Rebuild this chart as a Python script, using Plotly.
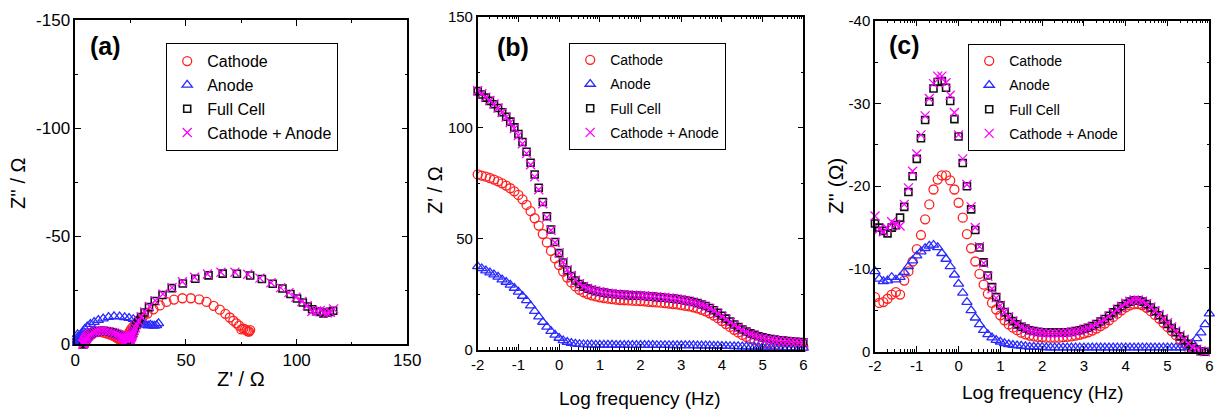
import math
import plotly.graph_objects as go

# ---------------- data ----------------
log_f = [-2.0, -1.9, -1.8, -1.7, -1.6, -1.5, -1.4, -1.3, -1.2, -1.1,
         -1.0, -0.9, -0.8, -0.7, -0.6, -0.5, -0.4, -0.3, -0.2, -0.1,
         0.0, 0.1, 0.2, 0.3, 0.4, 0.5, 0.6, 0.7, 0.8, 0.9,
         1.0, 1.1, 1.2, 1.3, 1.4, 1.5, 1.6, 1.7, 1.8, 1.9,
         2.0, 2.1, 2.2, 2.3, 2.4, 2.5, 2.6, 2.7, 2.8, 2.9,
         3.0, 3.1, 3.2, 3.3, 3.4, 3.5, 3.6, 3.7, 3.8, 3.9,
         4.0, 4.1, 4.2, 4.3, 4.4, 4.5, 4.6, 4.7, 4.8, 4.9,
         5.0, 5.1, 5.2, 5.3, 5.4, 5.5, 5.6, 5.7, 5.8, 5.9,
         6.0]

# Z' (real part, ohm)
cathode_re = [79.0, 78.5, 78.0, 77.4, 76.7, 75.9, 75.0, 74.0, 72.8, 71.4,
              69.8, 67.8, 65.3, 62.5, 59.3, 56.0, 52.2, 48.4, 44.6, 41.2,
              38.2, 35.3, 32.6, 30.4, 28.6, 27.1, 26.0, 25.2, 24.6, 24.1,
              23.7, 23.4, 23.1, 22.9, 22.7, 22.5, 22.4, 22.3, 22.2, 22.1,
              22.0, 21.9, 21.7, 21.6, 21.4, 21.3, 21.1, 20.9, 20.7, 20.5,
              20.2, 19.9, 19.6, 19.2, 18.7, 18.1, 17.4, 16.5, 15.5, 14.3,
              13.0, 11.7, 10.4, 9.1, 7.9, 6.8, 5.9, 5.1, 4.4, 3.8,
              3.3, 2.9, 2.6, 2.3, 2.1, 1.9, 1.8, 1.7, 1.6, 1.5,
              1.4]
anode_re = [37.6, 36.7, 35.7, 34.8, 33.9, 32.9, 31.7, 30.6, 29.3, 27.9,
            26.2, 24.3, 22.3, 20.0, 17.5, 15.0, 12.6, 10.4, 8.5, 6.8,
            5.4, 4.3, 3.6, 3.1, 2.8, 2.6, 2.5, 2.4, 2.4, 2.35,
            2.3, 2.3, 2.3, 2.3, 2.25, 2.25, 2.25, 2.2, 2.2, 2.2,
            2.2, 2.2, 2.2, 2.2, 2.15, 2.15, 2.15, 2.15, 2.1, 2.1,
            2.1, 2.1, 2.05, 2.05, 2.0, 2.0, 1.95, 1.95, 1.9, 1.85,
            1.8, 1.75, 1.7, 1.65, 1.6, 1.55, 1.5, 1.45, 1.4, 1.35,
            1.3, 1.25, 1.2, 1.2, 1.15, 1.1, 1.1, 1.05, 1.0, 1.0,
            1.0]
full_re = [116.5, 115.0, 113.6, 112.1, 110.6, 108.9, 107.0, 105.0, 102.8, 100.2,
           97.2, 93.6, 89.2, 84.3, 79.0, 73.0, 66.6, 60.2, 54.2, 48.6,
           43.6, 39.4, 35.9, 33.3, 31.3, 29.7, 28.5, 27.6, 27.0, 26.5,
           26.1, 25.8, 25.5, 25.3, 25.1, 24.9, 24.8, 24.7, 24.6, 24.5,
           24.4, 24.3, 24.1, 24.0, 23.8, 23.7, 23.5, 23.3, 23.1, 22.9,
           22.6, 22.3, 22.0, 21.6, 21.1, 20.5, 19.8, 18.9, 17.9, 16.7,
           15.4, 14.1, 12.8, 11.5, 10.3, 9.2, 8.3, 7.5, 6.8, 6.2,
           5.7, 5.3, 4.95, 4.65, 4.4, 4.2, 4.0, 3.85, 3.7, 3.55,
           3.4]
cat_an_re = [116.7, 115.3, 113.8, 112.3, 110.7, 108.9, 106.9, 104.8, 102.4, 99.7,
             96.5, 92.8, 88.4, 83.4, 77.9, 72.1, 65.8, 59.7, 53.9, 48.4,
             43.7, 39.6, 36.1, 33.5, 31.4, 29.8, 28.6, 27.7, 27.1, 26.6,
             26.2, 25.9, 25.6, 25.4, 25.2, 25.0, 24.9, 24.8, 24.7, 24.6,
             24.5, 24.4, 24.2, 24.1, 23.9, 23.8, 23.6, 23.4, 23.2, 22.9,
             22.6, 22.3, 21.9, 21.5, 21.0, 20.4, 19.6, 18.7, 17.6, 16.4,
             15.1, 13.8, 12.5, 11.2, 10.0, 8.9, 8.0, 7.2, 6.5, 5.9,
             5.4, 5.0, 4.7, 4.4, 4.2, 4.0, 3.85, 3.7, 3.55, 3.4,
             3.3]

# Z'' (imaginary part, ohm)
cathode_im = [-6.6, -5.9, -6.0, -6.4, -6.9, -7.2, -6.9, -8.6, -9.7, -10.9,
              -12.4, -14.1, -16.0, -17.8, -19.6, -20.8, -21.3, -21.3, -20.7, -19.6,
              -18.0, -16.2, -14.2, -12.5, -10.9, -9.4, -8.1, -7.0, -5.9, -5.1,
              -4.4, -3.8, -3.3, -2.9, -2.6, -2.3, -2.1, -1.95, -1.85, -1.8,
              -1.75, -1.7, -1.7, -1.7, -1.7, -1.75, -1.8, -1.85, -1.95, -2.05,
              -2.2, -2.35, -2.55, -2.8, -3.1, -3.4, -3.8, -4.2, -4.6, -5.0,
              -5.35, -5.6, -5.75, -5.75, -5.6, -5.3, -4.9, -4.45, -4.0, -3.5,
              -3.0, -2.5, -2.0, -1.5, -1.0, -0.4, 0.5, 1.3, 2.2, 3.3,
              4.7]
anode_im = [-9.7, -8.8, -8.5, -8.6, -9.0, -8.7, -9.0, -9.6, -10.3, -11.0,
            -11.6, -12.1, -12.5, -12.8, -12.9, -12.6, -11.9, -11.2, -10.3, -9.3,
            -8.2, -7.1, -6.0, -5.0, -4.1, -3.3, -2.6, -2.1, -1.7, -1.4,
            -1.2, -1.0, -0.9, -0.8, -0.75, -0.7, -0.65, -0.6, -0.6, -0.55,
            -0.55, -0.5, -0.5, -0.5, -0.5, -0.5, -0.5, -0.5, -0.5, -0.5,
            -0.5, -0.5, -0.5, -0.5, -0.5, -0.5, -0.5, -0.5, -0.5, -0.5,
            -0.5, -0.5, -0.5, -0.5, -0.5, -0.5, -0.5, -0.5, -0.5, -0.5,
            -0.5, -0.5, -0.5, -0.5, -0.5, -0.6, -1.0, -1.6, -2.3, -3.3,
            -4.6]
full_im = [-15.5, -15.0, -14.6, -14.3, -15.0, -15.3, -16.2, -17.5, -19.3, -21.2,
           -23.3, -25.8, -28.0, -30.2, -31.8, -32.6, -32.7, -31.9, -30.3, -28.1,
           -26.0, -22.8, -20.0, -17.2, -14.7, -12.6, -10.8, -9.2, -7.8, -6.6,
           -5.6, -4.8, -4.2, -3.7, -3.3, -3.0, -2.8, -2.6, -2.5, -2.4,
           -2.35, -2.3, -2.3, -2.3, -2.3, -2.3, -2.35, -2.4, -2.5, -2.6,
           -2.75, -2.9, -3.1, -3.35, -3.65, -3.95, -4.35, -4.75, -5.15, -5.5,
           -5.8, -6.05, -6.2, -6.2, -6.05, -5.75, -5.35, -4.9, -4.4, -3.9,
           -3.35, -2.85, -2.35, -1.85, -1.4, -0.95, -0.55, -0.25, -0.05, 0.0,
           0.1]
cat_an_im = [-16.4, -14.8, -14.5, -14.9, -15.7, -15.4, -15.2, -17.8, -19.8, -21.8,
             -23.9, -26.2, -28.5, -30.6, -32.4, -33.3, -33.3, -32.5, -31.0, -28.9,
             -26.2, -23.3, -20.2, -17.5, -15.0, -12.7, -10.7, -9.1, -7.6, -6.5,
             -5.6, -4.8, -4.2, -3.7, -3.35, -3.0, -2.75, -2.55, -2.45, -2.35,
             -2.3, -2.2, -2.2, -2.2, -2.2, -2.25, -2.3, -2.35, -2.45, -2.55,
             -2.7, -2.85, -3.05, -3.3, -3.6, -3.9, -4.3, -4.7, -5.1, -5.5,
             -5.85, -6.1, -6.25, -6.25, -6.1, -5.8, -5.4, -4.95, -4.5, -4.0,
             -3.5, -3.0, -2.5, -2.0, -1.5, -1.0, -0.5, -0.3, -0.1, 0.0,
             0.1]

series_names = ["Cathode", "Anode", "Full Cell", "Cathode + Anode"]

# axis ticks and their labels (plain hyphen minus, as in the figure)
a_x_ticks = [0, 50, 100, 150]
a_x_labels = ["0", "50", "100", "150"]
a_y_ticks = [0, -50, -100, -150]
a_y_labels = ["0", "-50", "-100", "-150"]
b_x_ticks = [-2, -1, 0, 1, 2, 3, 4, 5, 6]
b_x_labels = ["-2", "-1", "0", "1", "2", "3", "4", "5", "6"]
b_y_ticks = [0, 50, 100, 150]
b_y_labels = ["0", "50", "100", "150"]
c_y_ticks = [0, -10, -20, -30, -40]
c_y_labels = ["0", "-10", "-20", "-30", "-40"]

# ---------------- styling ----------------
W, H = 1226, 412
FONT = "Liberation Sans, Arial, sans-serif"

styles = [
    dict(symbol="circle-open", color="#ff2020", size=9, line=dict(width=1.3, color="#ff2020")),
    dict(symbol="triangle-up-open", color="#2a2aff", size=9, line=dict(width=1.3, color="#2a2aff")),
    dict(symbol="square-open", color="#111111", size=7, line=dict(width=1.6, color="#111111")),
    dict(symbol="x-thin-open", color="#ff00ff", size=9, line=dict(width=1.3, color="#ff00ff")),
]
clip = [True, False, False, False]


def xdom(l, r):
    return [l / W, r / W]


def ydom(t, b):
    return [1 - b / H, 1 - t / H]


fig = go.Figure()

panel_data = [
    ([cathode_re, anode_re, full_re, cat_an_re], [cathode_im, anode_im, full_im, cat_an_im], "x", "y", "legend"),
    ([log_f] * 4, [cathode_re, anode_re, full_re, cat_an_re], "x2", "y2", "legend2"),
    ([log_f] * 4, [cathode_im, anode_im, full_im, cat_an_im], "x3", "y3", "legend3"),
]

for p, (xs, ys, xa, ya, lg) in enumerate(panel_data):
    for k in range(4):
        fig.add_trace(go.Scatter(
            x=xs[k], y=ys[k], mode="markers", name=series_names[k],
            marker=styles[k], xaxis=xa, yaxis=ya, legend=lg,
            legendgroup=f"{lg}_{k}", cliponaxis=clip[k] if p != 1 else False,
            showlegend=True,
        ))


def axis(domain, rng, tickvals, ticktext, minorvals, fsize, anchor):
    return dict(
        domain=domain, range=rng, tickmode="array", tickvals=tickvals, ticktext=ticktext,
        ticks="inside", ticklen=6, tickwidth=1.2, tickcolor="black",
        showline=True, linecolor="black", linewidth=1.5, mirror="ticks",
        showgrid=False, zeroline=False, anchor=anchor,
        tickfont=dict(family=FONT, size=fsize, color="black"),
        minor=dict(tickmode="array", tickvals=minorvals, ticks="inside",
                   ticklen=3, tickwidth=1, tickcolor="black"),
    )


log_minor = [d + math.log10(m) for d in range(-2, 6) for m in range(2, 10)]

fig.update_layout(
    width=W, height=H, margin=dict(l=0, r=0, t=0, b=0, autoexpand=False),
    paper_bgcolor="white", plot_bgcolor="white",
    font=dict(family=FONT, color="black"),
    xaxis=axis(xdom(75.3, 407.3), [0, 150], a_x_ticks, a_x_labels, [25, 75, 125], 17, "y"),
    yaxis=axis(ydom(20, 344.3), [0, -150], a_y_ticks, a_y_labels, [-25, -75, -125], 17, "x"),
    xaxis2=axis(xdom(477.7, 803.3), [-2, 6], b_x_ticks, b_x_labels, log_minor, 15, "y2"),
    yaxis2=axis(ydom(16.7, 350), [0, 150], b_y_ticks, b_y_labels, [25, 75, 125], 15, "x2"),
    xaxis3=axis(xdom(875, 1209.3), [-2, 6], b_x_ticks, b_x_labels, log_minor, 15, "y3"),
    yaxis3=axis(ydom(20.7, 351.7), [0, -40], c_y_ticks, c_y_labels, [-5, -15, -25, -35], 15, "x3"),
)


def legend_cfg(x, y, fsize, gap):
    return dict(x=x / W, y=1 - y / H, xanchor="left", yanchor="top",
                bgcolor="white", bordercolor="black", borderwidth=1.2,
                font=dict(family=FONT, size=fsize, color="black"),
                tracegroupgap=gap, traceorder="grouped", itemclick=False)


fig.update_layout(
    legend=legend_cfg(166, 43, 16, 0),
    legend2=legend_cfg(569, 43, 14, 3),
    legend3=legend_cfg(968, 44, 14, 3),
)

annotations = [
    ("(a)", 105, 46, 25, True, 0),
    ("(b)", 513, 47, 25, True, 0),
    ("(c)", 904, 45, 25, True, 0),
    ("Z' / Ω", 241, 379, 20, False, 0),
    ("Z'' / Ω", 18, 183, 20, False, -90),
    ("Log frequency (Hz)", 640, 398, 19, False, 0),
    ("Z' / Ω", 435, 190, 20, False, -90),
    ("Log frequency (Hz)", 1043, 392, 19, False, 0),
    ("Z'' (Ω)", 835, 186, 21, False, -90),
]
for text, x, y, size, bold, ang in annotations:
    fig.add_annotation(
        text=f"<b>{text}</b>" if bold else text, x=x / W, y=1 - y / H,
        xref="paper", yref="paper", showarrow=False, textangle=ang,
        xanchor="center", yanchor="middle",
        font=dict(family=FONT, size=size, color="black"),
    )

# the page's default body margin would offset the figure by 8 px
fig.write_html("out.html",
               config={"displayModeBar": False},
               post_script="document.body.style.margin='0';document.body.style.overflow='hidden';")
